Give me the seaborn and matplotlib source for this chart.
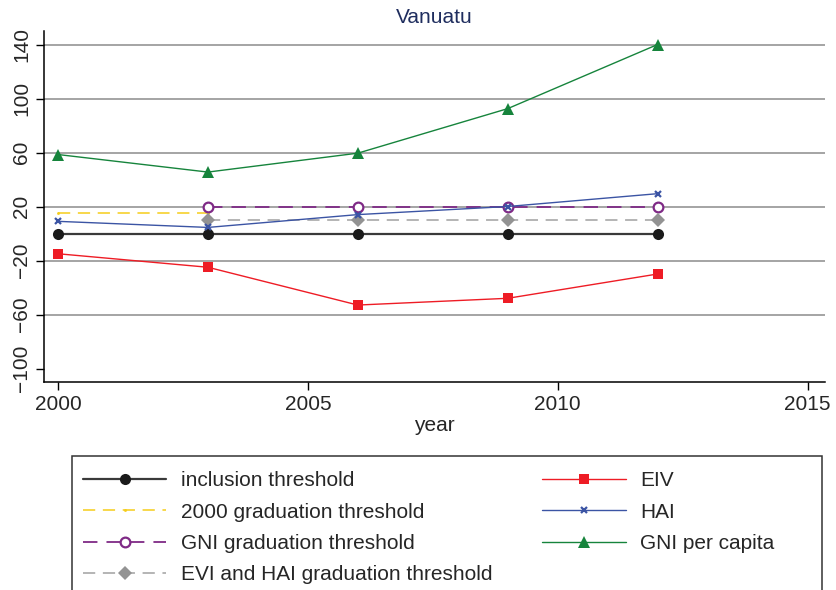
import matplotlib
matplotlib.use("Agg")
import matplotlib.pyplot as plt
from matplotlib.patches import Rectangle
import seaborn as sns

# data
years = [2000, 2003, 2006, 2009, 2012]
inclusion = [0, 0, 0, 0, 0]
grad2000_years = [2000, 2003]
grad2000 = [15, 15]
grad_years = [2003, 2006, 2009, 2012]
gni_grad = [20, 20, 20, 20]
evi_hai_grad = [10, 10, 10, 10]
eiv = [-15, -25, -53, -48, -30]
hai = [9, 4.5, 14, 20, 29.5]
gni_pc = [58.5, 45.5, 59.5, 92.5, 140]

y_ticks = [-100, -60, -20, 20, 60, 100, 140]
x_ticks = [2000, 2005, 2010, 2015]

sns.set_style("ticks")
plt.rcParams["font.family"] = ["Liberation Sans", "DejaVu Sans"]

fig = plt.figure(figsize=(8.36, 5.90), dpi=100)
ax = fig.add_axes([44 / 836, 1 - 382 / 590, (825 - 44) / 836, (382 - 31) / 590])

dash = (0, (8, 5))
sns.lineplot(x=years, y=inclusion, ax=ax, color="#3a3a3a", linewidth=1.6,
             marker="o", markersize=8, markerfacecolor="#1a1a1a",
             markeredgewidth=0, label="inclusion threshold")
sns.lineplot(x=grad2000_years, y=grad2000, ax=ax, color="#f5cd1a", linewidth=1.1,
             linestyle=dash, marker=".", markersize=3, markeredgecolor="#f5cd1a",
             markeredgewidth=0.5, label="2000 graduation threshold")
sns.lineplot(x=grad_years, y=gni_grad, ax=ax, color="#7f2a86", linewidth=1.3,
             linestyle=dash, marker="o", markersize=7, markerfacecolor="white",
             markeredgecolor="#7f2a86", markeredgewidth=1.6,
             label="GNI graduation threshold")
sns.lineplot(x=grad_years, y=evi_hai_grad, ax=ax, color="#a0a0a0", linewidth=1.1,
             linestyle=dash, marker="D", markersize=7.5, markerfacecolor="#939393",
             markeredgewidth=0, label="EVI and HAI graduation threshold")
sns.lineplot(x=years, y=eiv, ax=ax, color="#ee1c25", linewidth=1.0,
             marker="s", markersize=7.5, markeredgewidth=0, label="EIV")
sns.lineplot(x=years, y=hai, ax=ax, color="#3b54a4", linewidth=1.0,
             marker="x", markersize=4.5, markeredgewidth=1.6,
             markeredgecolor="#3b54a4", label="HAI")
sns.lineplot(x=years, y=gni_pc, ax=ax, color="#16843c", linewidth=1.0,
             marker="^", markersize=8.5, markeredgewidth=0, label="GNI per capita")

ax.set_xlim(1999.72, 2015.35)
ax.set_ylim(-110, 150)
ax.set_xticks(x_ticks)
ax.set_yticks(y_ticks)
ax.tick_params(axis="both", labelsize=15, length=6, width=1, color="black", pad=3)
for lab in ax.get_yticklabels():
    lab.set_rotation(90)
    lab.set_va("center")

ax.grid(axis="y", color="#8c8c8c", linewidth=1.1)
ax.grid(axis="x", visible=False)
ax.yaxis.get_gridlines()[0].set_visible(False)
ax.set_axisbelow(True)

sns.despine(ax=ax)
for side in ["left", "bottom"]:
    ax.spines[side].set_color("black")
    ax.spines[side].set_linewidth(1.1)

ax.set_xlabel("year", fontsize=15, labelpad=2)
ax.set_ylabel("")
ax.set_title("Vanuatu", fontsize=15, color="#1f2d5e", pad=6)

handles, labels = ax.get_legend_handles_labels()
ax.get_legend().remove()
fig.legend(handles, labels, ncol=2, loc="upper left",
           bbox_to_anchor=(83 / 836, 1 - 471 / 590), frameon=False,
           borderpad=0, borderaxespad=0, fontsize=15, handlelength=4,
           handletextpad=0.7, columnspacing=2.4, labelspacing=0.6)

fig.patches.append(Rectangle((72 / 836, -0.02), 750 / 836, 0.02 + (1 - 456 / 590),
                             transform=fig.transFigure, fill=False,
                             edgecolor="#333333", linewidth=1.1))

fig.savefig("out.png", dpi=100)
